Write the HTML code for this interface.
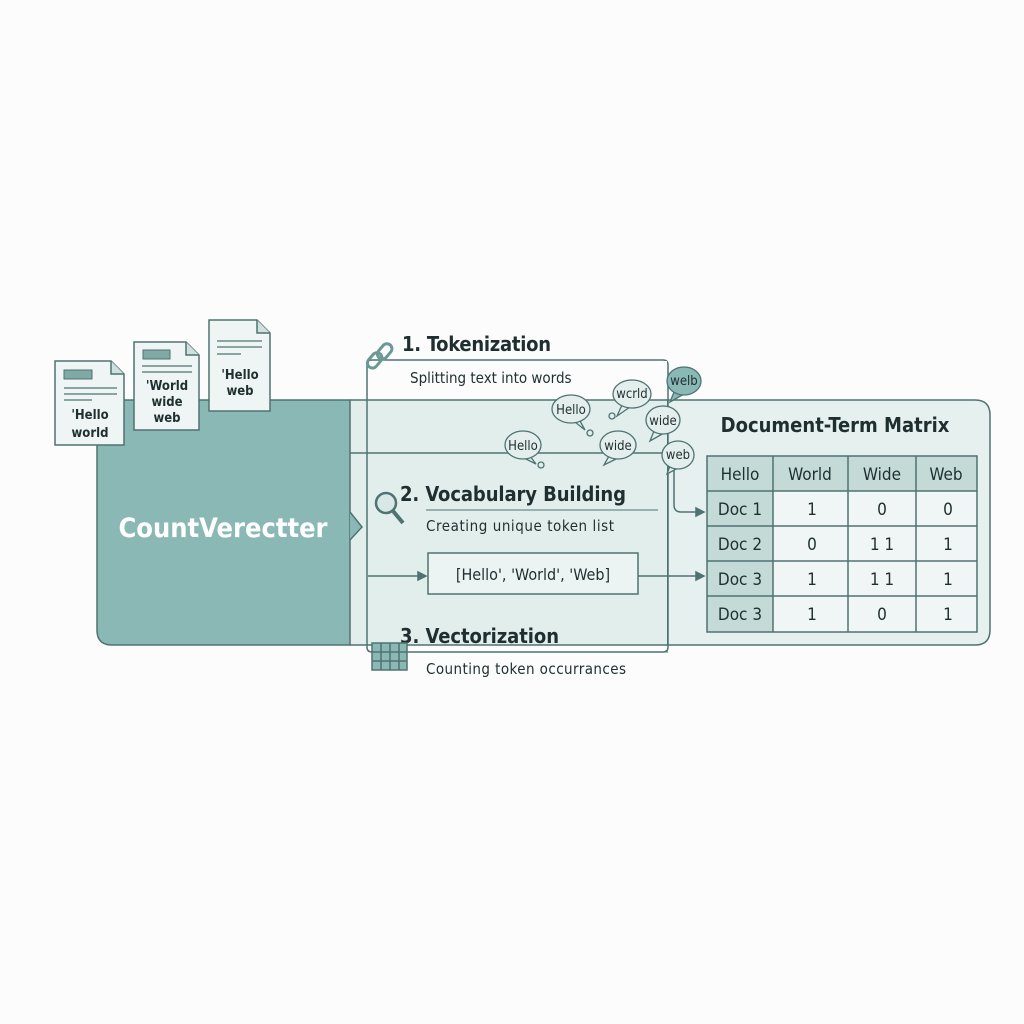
<!DOCTYPE html>
<html><head><meta charset="utf-8"><style>
html,body{margin:0;padding:0;background:#fbfcfb;}
svg{display:block;font-family:"DejaVu Sans Condensed","Liberation Sans",sans-serif;}
</style></head><body>
<svg width="1024" height="1024" viewBox="0 0 1024 1024" xmlns="http://www.w3.org/2000/svg">
<rect width="1024" height="1024" fill="#fbfcfb"/>
<path d="M667 400 H975 Q990 400 990 415 V630 Q990 645 975 645 H667 Z" fill="#e6f0ee" stroke="#4f7372" stroke-width="1.5"/>
<rect x="350" y="400" width="317" height="245" fill="#e2eeec"/>
<line x1="350" y1="400" x2="667" y2="400" stroke="#4f7372" stroke-width="1.5"/>
<line x1="350" y1="453" x2="667" y2="453" stroke="#4f7372" stroke-width="1.5"/>
<line x1="350" y1="645" x2="667" y2="645" stroke="#4f7372" stroke-width="1.5"/>
<path d="M97 400 H350 V645 H112 Q97 645 97 630 Z" fill="#8ab8b5" stroke="#4f7372" stroke-width="1.5"/>
<path d="M350 512 L362 527 L350 540" fill="#8ab8b5" stroke="#4f7372" stroke-width="1.5"/>
<text x="223" y="537" font-size="27" font-weight="bold" fill="#ffffff" text-anchor="middle">CountVerectter</text>
<path d="M372 360 H663 Q668 360 668 365 V647 Q668 652 663 652 H372 Q367 652 367 647 V365 Q367 360 372 360 Z" fill="none" stroke="#4f7372" stroke-width="1.5"/>
<rect x="368" y="361" width="299" height="38" fill="#fbfcfb"/>
<g stroke="#4f7372" stroke-width="1.5" fill="#eef5f4">
<path d="M55 361 H111 L124 374 V445 H55 Z"/><path d="M111 361 V374 H124" fill="#cfe1df"/>
<path d="M134 342 H186 L199 355 V430 H134 Z"/><path d="M186 342 V355 H199" fill="#cfe1df"/>
<path d="M209 320 H257 L270 333 V411 H209 Z"/><path d="M257 320 V333 H270" fill="#cfe1df"/>
</g>
<g fill="#7fa9a5" stroke="#4f7372" stroke-width="1"><rect x="64" y="370" width="28" height="9"/><rect x="143" y="350" width="27" height="9"/></g>
<g stroke="#4f7372" stroke-width="1.2">
<line x1="64" y1="388" x2="117" y2="388"/><line x1="64" y1="394" x2="117" y2="394"/><line x1="64" y1="400" x2="92" y2="400"/>
<line x1="142" y1="366" x2="192" y2="366"/><line x1="142" y1="372" x2="192" y2="372"/>
<line x1="217" y1="341" x2="262" y2="341"/><line x1="217" y1="347" x2="262" y2="347"/><line x1="217" y1="354" x2="241" y2="354"/>
</g>
<g font-size="13" fill="#1f2f30" text-anchor="middle" font-weight="bold">
<text x="90" y="419">'Hello</text><text x="90" y="437">world</text>
<text x="167" y="390">'World</text><text x="167" y="406">wide</text><text x="167" y="422">web</text>
<text x="240" y="379">'Hello</text><text x="240" y="395">web</text>
</g>
<g fill="#1f2f30">
<text x="402" y="351" font-size="20" font-weight="bold" textLength="149">1. Tokenization</text>
<text x="410" y="383" font-size="15">Splitting text into words</text>
<line x1="402" y1="360" x2="660" y2="360" stroke="#4f7372"/>
<text x="400" y="501" font-size="20" font-weight="bold" textLength="226">2. Vocabulary Building</text>
<line x1="426" y1="510" x2="658" y2="510" stroke="#4f7372"/>
<text x="426" y="531" font-size="15" textLength="188">Creating unique token list</text>
<text x="400" y="643" font-size="20" font-weight="bold" textLength="159">3. Vectorization</text>
<line x1="425" y1="652" x2="668" y2="652" stroke="#4f7372"/>
<text x="426" y="674" font-size="15" textLength="200">Counting token occurrances</text>
</g>
<g stroke="#4f7372" fill="none" stroke-width="1.5">
<rect x="370" y="352" width="10" height="17" rx="5" transform="rotate(40 375 360)" stroke-width="3" stroke="#6a9995"/>
<rect x="380" y="343" width="10" height="17" rx="5" transform="rotate(40 385 351)" stroke-width="3" stroke="#6a9995"/>
<circle cx="386" cy="503" r="10" fill="#d8e8e6" stroke-width="2.5"/>
<line x1="393" y1="511" x2="403" y2="523" stroke-width="4"/>
<rect x="372" y="643" width="35" height="27" fill="#8ab8b5"/>
<path d="M381 643V670M390 643V670M399 643V670M372 652H407M372 661H407"/>
</g>
<rect x="428" y="553" width="210" height="41" fill="#ecf4f3" stroke="#4f7372" stroke-width="1.5"/>
<text x="533" y="580" font-size="16" fill="#1f2f30" text-anchor="middle">[Hello', 'World', 'Web]</text>
<g stroke="#4f7372" stroke-width="1.5" fill="#4f7372">
<line x1="368" y1="576" x2="420" y2="576"/><path d="M426 576 L418 572 L418 580Z"/>
<line x1="638" y1="576" x2="697" y2="576"/><path d="M704 576 L696 572 L696 580Z"/>
<path d="M674 470 V505 Q674 512 681 512 H697" fill="none"/><path d="M704 512 L696 508 L696 516Z"/>
</g>
<g font-size="13" fill="#1f2f30" text-anchor="middle" stroke-width="1.3">
<g><path d="M580 421 L585 430 L575 422" fill="#e4efed" stroke="#4f7372"/><ellipse cx="571" cy="409" rx="19" ry="14" fill="#e4efed" stroke="#4f7372"/><text x="571" y="414">Hello</text><circle cx="590" cy="433" r="3" fill="none" stroke="#4f7372"/></g>
<g><path d="M622 405 L617 416 L630 407" fill="#e4efed" stroke="#4f7372"/><ellipse cx="632" cy="394" rx="19" ry="14" fill="#e4efed" stroke="#4f7372"/><text x="632" y="398">wcrld</text><circle cx="612" cy="416" r="3" fill="none" stroke="#4f7372"/></g>
<g><path d="M674 392 L670 402 L684 394" fill="#8ab8b5" stroke="#4f7372"/><ellipse cx="684" cy="381" rx="17" ry="14" fill="#8ab8b5" stroke="#4f7372"/><text x="684" y="385">welb</text></g>
<g><path d="M654 431 L650 441 L664 433" fill="#e4efed" stroke="#4f7372"/><ellipse cx="663" cy="420" rx="17" ry="14" fill="#e4efed" stroke="#4f7372"/><text x="663" y="425">wide</text></g>
<g><path d="M530 456 L536 464 L524 458" fill="#e4efed" stroke="#4f7372"/><ellipse cx="523" cy="445" rx="18" ry="14" fill="#e4efed" stroke="#4f7372"/><text x="523" y="450">Hello</text><circle cx="541" cy="465" r="3" fill="none" stroke="#4f7372"/></g>
<g><path d="M609 456 L604 465 L618 458" fill="#e4efed" stroke="#4f7372"/><ellipse cx="618" cy="445" rx="18" ry="14" fill="#e4efed" stroke="#4f7372"/><text x="618" y="450">wide</text></g>
<g><path d="M670 466 L667 474 L678 468" fill="#e4efed" stroke="#4f7372"/><ellipse cx="678" cy="455" rx="16" ry="14" fill="#e4efed" stroke="#4f7372"/><text x="678" y="459">web</text></g>
</g>
<text x="835" y="432" font-size="20" font-weight="bold" fill="#1f2f30" text-anchor="middle">Document-Term Matrix</text>
<rect x="707" y="456" width="270" height="176" fill="#f0f6f5"/>
<rect x="707" y="456" width="270" height="35" fill="#c3dad7"/>
<rect x="707" y="491" width="66" height="141" fill="#c3dad7"/>
<g stroke="#4f7372" stroke-width="1.5" fill="none">
<rect x="707" y="456" width="270" height="176"/>
<path d="M773 456V632M848 456V632M916 456V632M707 491H977M707 526H977M707 561H977M707 596H977"/>
</g>
<g font-size="17" fill="#1f2f30" text-anchor="middle">
<text x="740" y="480">Hello</text><text x="810" y="480">World</text><text x="882" y="480">Wide</text><text x="946" y="480">Web</text>
<text x="740" y="515">Doc 1</text><text x="812" y="515">1</text><text x="882" y="515">0</text><text x="948" y="515">0</text>
<text x="740" y="550">Doc 2</text><text x="812" y="550">0</text><text x="882" y="550">1  1</text><text x="948" y="550">1</text>
<text x="740" y="585">Doc 3</text><text x="812" y="585">1</text><text x="882" y="585">1  1</text><text x="948" y="585">1</text>
<text x="740" y="620">Doc 3</text><text x="812" y="620">1</text><text x="882" y="620">0</text><text x="948" y="620">1</text>
</g>
</svg>
</body></html>
